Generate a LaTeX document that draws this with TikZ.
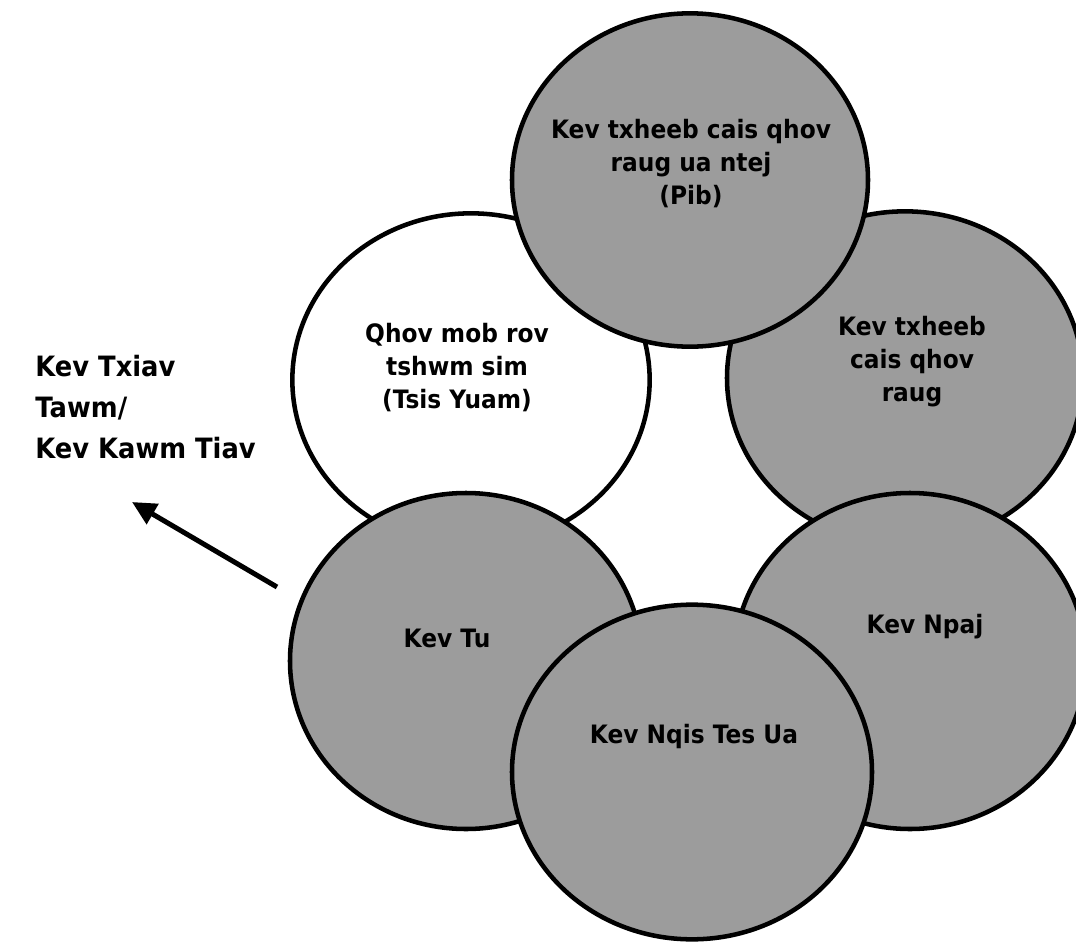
\documentclass[tikz,border=0pt]{standalone}
\usepackage{fontspec}
\setmainfont[FakeStretch=0.92]{DejaVu Sans}
\usetikzlibrary{shapes.geometric,arrows.meta}
\definecolor{petalgray}{RGB}{156,156,156}

\begin{document}
\begin{tikzpicture}[x=0.75pt,y=-0.75pt,
  petal/.style={ellipse,draw,line width=3.4pt,fill=petalgray,inner sep=0pt},
  lbl/.style={align=center,font=\fontsize{19}{24.75}\selectfont\bfseries}]
\useasboundingbox (0,0) rectangle (1076,943);
\node[petal,fill=white,minimum width=268pt,minimum height=250pt] (recur) at (471,380) {};
\node[petal,minimum width=267pt,minimum height=250pt] (ident) at (905,378) {};
\node[petal,minimum width=267pt,minimum height=250pt] (early) at (690,180) {};
\node[petal,minimum width=264pt,minimum height=252pt] (maint) at (466,661) {};
\node[petal,minimum width=264pt,minimum height=252pt] (prep) at (910,661) {};
\node[petal,minimum width=270pt,minimum height=251pt] (act) at (692,772) {};
\node[lbl] (earlytxt) at (691,164) {Kev txheeb cais qhov\\raug ua ntej\\(Pib)};
\node[lbl] (recurtxt) at (457,368) {Qhov mob rov\\tshwm sim\\(Tsis Yuam)};
\node[lbl] (identtxt) at (912,362) {Kev txheeb\\cais qhov\\raug};
\node[lbl] (mainttxt) at (447,638) {Kev Tu};
\node[lbl] (preptxt) at (925,627) {Kev Npaj};
\node[lbl] (acttxt) at (694,737) {Kev Nqis Tes Ua};
\node[lbl,align=left,anchor=east,inner sep=0pt,font=\fontsize{21}{30.75}\selectfont\bfseries] (result) at (256,407) {Kev Txiav\\Tawm/\\Kev Kawm Tiav};
\coordinate (tail) at (277,587);
\coordinate (tip) at (132,502);
\draw[line width=3.75pt,-{Triangle[length=18pt,width=17pt]}] (tail) -- (tip);
\end{tikzpicture}
\end{document}
